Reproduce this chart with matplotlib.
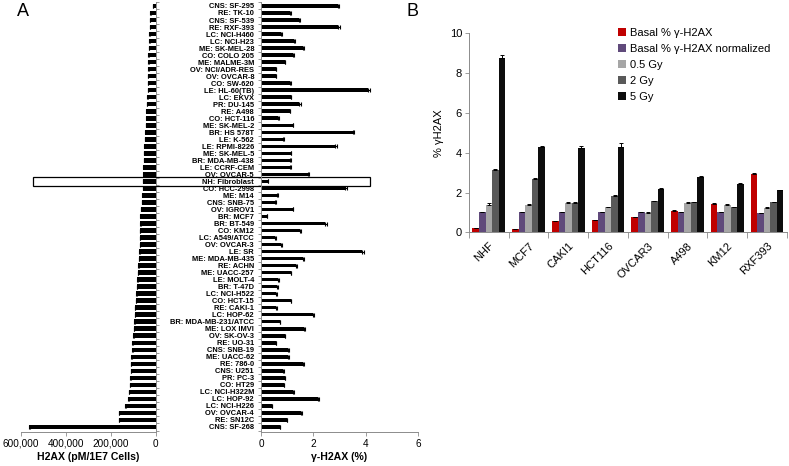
import numpy as np
import matplotlib
matplotlib.use("Agg")
import matplotlib.pyplot as plt
from matplotlib.patches import Rectangle
from matplotlib.transforms import blended_transform_factory

plt.rcParams['font.family'] = ['Liberation Sans', 'DejaVu Sans']

# panel A data, top to bottom
cell_lines = ['CNS: SF-295', 'RE: TK-10', 'CNS: SF-539', 'RE: RXF-393', 'LC: NCI-H460',
              'LC: NCI-H23', 'ME: SK-MEL-28', 'CO: COLO 205', 'ME: MALME-3M', 'OV: NCI/ADR-RES',
              'OV: OVCAR-8', 'CO: SW-620', 'LE: HL-60(TB)', 'LC: EKVX', 'PR: DU-145',
              'RE: A498', 'CO: HCT-116', 'ME: SK-MEL-2', 'BR: HS 578T', 'LE: K-562',
              'LE: RPMI-8226', 'ME: SK-MEL-5', 'BR: MDA-MB-438', 'LE: CCRF-CEM', 'OV: OVCAR-5',
              'NH: Fibroblast', 'CO: HCC-2998', 'ME: M14', 'CNS: SNB-75', 'OV: IGROV1',
              'BR: MCF7', 'BR: BT-549', 'CO: KM12', 'LC: A549/ATCC', 'OV: OVCAR-3',
              'LE: SR', 'ME: MDA-MB-435', 'RE: ACHN', 'ME: UACC-257', 'LE: MOLT-4',
              'BR: T-47D', 'LC: NCI-H522', 'CO: HCT-15', 'RE: CAKI-1', 'LC: HOP-62',
              'BR: MDA-MB-231/ATCC', 'ME: LOX IMVI', 'OV: SK-OV-3', 'RE: UO-31', 'CNS: SNB-19',
              'ME: UACC-62', 'RE: 786-0', 'CNS: U251', 'PR: PC-3', 'CO: HT29',
              'LC: NCI-H322M', 'LC: HOP-92', 'LC: NCI-H226', 'OV: OVCAR-4', 'RE: SN12C',
              'CNS: SF-268']

h2ax = [12000, 24000, 26000, 27000, 29000, 29000, 30000, 32000, 32000, 33000,
        35000, 36000, 36000, 38000, 39000, 41000, 42000, 44000, 47000, 48000,
        51000, 52000, 53000, 55000, 56000, 58000, 58000, 60000, 63000, 67000,
        69000, 69000, 71000, 71000, 72000, 74000, 75000, 77000, 79000, 81000,
        83000, 86000, 89000, 92000, 94000, 95000, 98000, 100000, 104000, 104000,
        108000, 110000, 112000, 114000, 116000, 119000, 122000, 135000, 164000, 164000,
        566000]
h2ax_err = [2000] * 60 + [6000]

gamma_pct = [2.93, 1.12, 1.45, 2.96, 0.78, 1.28, 1.61, 1.22, 0.91, 0.56,
             0.57, 1.12, 4.10, 1.14, 1.47, 1.10, 0.66, 1.21, 3.50, 0.85,
             2.84, 1.14, 1.12, 1.12, 1.80, 0.26, 3.20, 0.63, 0.54, 1.21,
             0.22, 2.46, 1.49, 0.55, 0.78, 3.86, 1.61, 1.33, 1.14, 0.66,
             0.63, 0.58, 1.14, 0.59, 1.97, 0.72, 1.63, 0.91, 0.57, 1.05,
             1.05, 1.60, 0.84, 0.91, 0.87, 1.22, 2.17, 0.41, 1.52, 0.99,
             0.71]
gamma_err = [0.04, 0.02, 0.04, 0.05, 0.02, 0.03, 0.04, 0.03, 0.02, 0.02,
             0.02, 0.02, 0.07, 0.02, 0.04, 0.02, 0.02, 0.03, 0.07, 0.02,
             0.05, 0.02, 0.02, 0.02, 0.03, 0.01, 0.07, 0.02, 0.02, 0.02,
             0.01, 0.05, 0.04, 0.02, 0.02, 0.07, 0.04, 0.03, 0.02, 0.02,
             0.02, 0.02, 0.02, 0.02, 0.04, 0.02, 0.05, 0.02, 0.02, 0.02,
             0.02, 0.06, 0.02, 0.02, 0.02, 0.03, 0.05, 0.02, 0.05, 0.02,
             0.02]

# panel B data
b_lines = ['NHF', 'MCF7', 'CAKI1', 'HCT116', 'OVCAR3', 'A498', 'KM12', 'RXF393']
b_series = ['Basal % γ-H2AX', 'Basal % γ-H2AX normalized', '0.5 Gy', '2 Gy', '5 Gy']
basal = [0.20, 0.16, 0.55, 0.60, 0.75, 1.07, 1.42, 2.92]
basal_norm = [1.0, 1.0, 1.0, 1.0, 1.0, 1.0, 1.0, 0.97]
gy05 = [1.38, 1.37, 1.48, 1.25, 0.98, 1.46, 1.36, 1.24]
gy2 = [3.14, 2.68, 1.48, 1.84, 1.57, 1.50, 1.25, 1.50]
gy5 = [8.78, 4.30, 4.25, 4.28, 2.17, 2.80, 2.44, 2.12]
b_err = [[0.04, 0.03, 0.02, 0.04, 0.03, 0.03, 0.07, 0.06],
         [0.02, 0.02, 0.02, 0.02, 0.02, 0.02, 0.02, 0.02],
         [0.07, 0.03, 0.04, 0.03, 0.02, 0.04, 0.04, 0.03],
         [0.05, 0.05, 0.03, 0.05, 0.02, 0.03, 0.02, 0.03],
         [0.15, 0.03, 0.07, 0.20, 0.04, 0.04, 0.06, 0.02]]
b_colors = ['#C00000', '#604A7B', '#A6A6A6', '#595959', '#0D0D0D']

spine_c = '#8C8C8C'

fig = plt.figure(figsize=(7.89, 4.66), dpi=100)

n = len(cell_lines)
y = np.arange(n)

# left: H2AX amount
axL = fig.add_axes([0.0266, 0.073, 0.1707, 0.9217])
axL.barh(y, h2ax, height=0.65, color='black', xerr=[h2ax_err, [0] * n],
         error_kw=dict(ecolor='black', elinewidth=0.8, capsize=1.5, capthick=0.8))
axL.set_xlim(600000, 0)
axL.set_ylim(60.71, -0.5)
axL.set_xticks([600000, 400000, 200000, 0])
axL.set_xticklabels(['600,000', '400,000', '200,000', '0'], fontsize=7.2)
axL.set_xlabel('H2AX (pM/1E7 Cells)', fontsize=7.6, fontweight='bold', labelpad=2)
axL.yaxis.tick_right()
axL.set_yticks(np.arange(-0.5, n, 1.0))
axL.set_yticklabels([])
axL.tick_params(axis='y', length=2, color=spine_c, width=0.6)
axL.tick_params(axis='x', length=3, color=spine_c, width=0.6, pad=2)
for s in ['top', 'left']:
    axL.spines[s].set_visible(False)
for s in ['right', 'bottom']:
    axL.spines[s].set_color(spine_c)
    axL.spines[s].set_linewidth(0.7)

# right: gamma-H2AX percent
axR = fig.add_axes([0.3308, 0.073, 0.199, 0.9217])
axR.barh(y, gamma_pct, height=0.5, color='black', xerr=[[0] * n, gamma_err],
         error_kw=dict(ecolor='black', elinewidth=0.8, capsize=1.5, capthick=0.8))
axR.set_xlim(0, 6)
axR.set_ylim(60.71, -0.5)
axR.set_xticks([0, 2, 4, 6])
axR.set_xticklabels(['0', '2', '4', '6'], fontsize=7.2)
axR.set_xlabel('γ-H2AX (%)', fontsize=7.6, fontweight='bold', labelpad=2)
axR.set_yticks(y)
axR.set_yticklabels(cell_lines, fontsize=5.4, fontweight='bold')
axR.tick_params(axis='y', length=0, pad=5)
axR.tick_params(axis='x', length=3, color=spine_c, width=0.6, pad=2)
axR.set_yticks(np.arange(-0.5, n, 1.0), minor=True)
axR.tick_params(axis='y', which='minor', length=2, color=spine_c, width=0.6)
for s in ['top', 'right']:
    axR.spines[s].set_visible(False)
for s in ['left', 'bottom']:
    axR.spines[s].set_color(spine_c)
    axR.spines[s].set_linewidth(0.7)

# box around the fibroblast row
idx = cell_lines.index('NH: Fibroblast')
tr = blended_transform_factory(axR.transAxes, axR.transData)
axR.add_patch(Rectangle((-1.452, idx - 0.62), 2.146, 1.24, transform=tr, fill=False,
                        edgecolor='black', linewidth=0.9, clip_on=False))

fig.text(0.021, 0.975, 'A', fontsize=13, va='center')
fig.text(0.515, 0.975, 'B', fontsize=13, va='center')

# panel B
axB = fig.add_axes([0.5944, 0.5015, 0.403, 0.427])
xg = np.arange(len(b_lines))
w = 0.165
vals = [basal, basal_norm, gy05, gy2, gy5]
for k in range(5):
    axB.bar(xg + (k - 2) * w, vals[k], width=w, color=b_colors[k], label=b_series[k],
            yerr=[[0] * len(b_lines), b_err[k]],
            error_kw=dict(ecolor='black', elinewidth=0.7, capsize=1.6, capthick=0.7))
axB.set_xlim(-0.5, len(b_lines) - 0.5)
axB.set_ylim(0, 10)
axB.set_yticks([0, 2, 4, 6, 8, 10])
axB.set_yticklabels(['0', '2', '4', '6', '8', '10'], fontsize=8)
axB.set_ylabel('% γH2AX', fontsize=8, labelpad=4)
axB.set_xticks(np.arange(-0.5, len(b_lines), 1.0))
axB.set_xticklabels([])
axB.set_xticks(xg, minor=True)
axB.set_xticklabels(b_lines, minor=True, rotation=45, ha='right', rotation_mode='anchor',
                    fontsize=8)
axB.tick_params(axis='x', which='major', length=4, color=spine_c, width=0.6)
axB.tick_params(axis='x', which='minor', length=0, pad=6)
axB.tick_params(axis='y', length=3, color=spine_c, width=0.6, pad=2)
for s in ['top', 'right']:
    axB.spines[s].set_visible(False)
for s in ['left', 'bottom']:
    axB.spines[s].set_color(spine_c)
    axB.spines[s].set_linewidth(0.7)

axB.legend(loc='upper left', bbox_to_anchor=(0.455, 1.05), frameon=False, fontsize=8,
           handlelength=0.7, handleheight=0.7, handletextpad=0.4, labelspacing=0.55,
           borderaxespad=0)

fig.savefig('out.png', dpi=100)
